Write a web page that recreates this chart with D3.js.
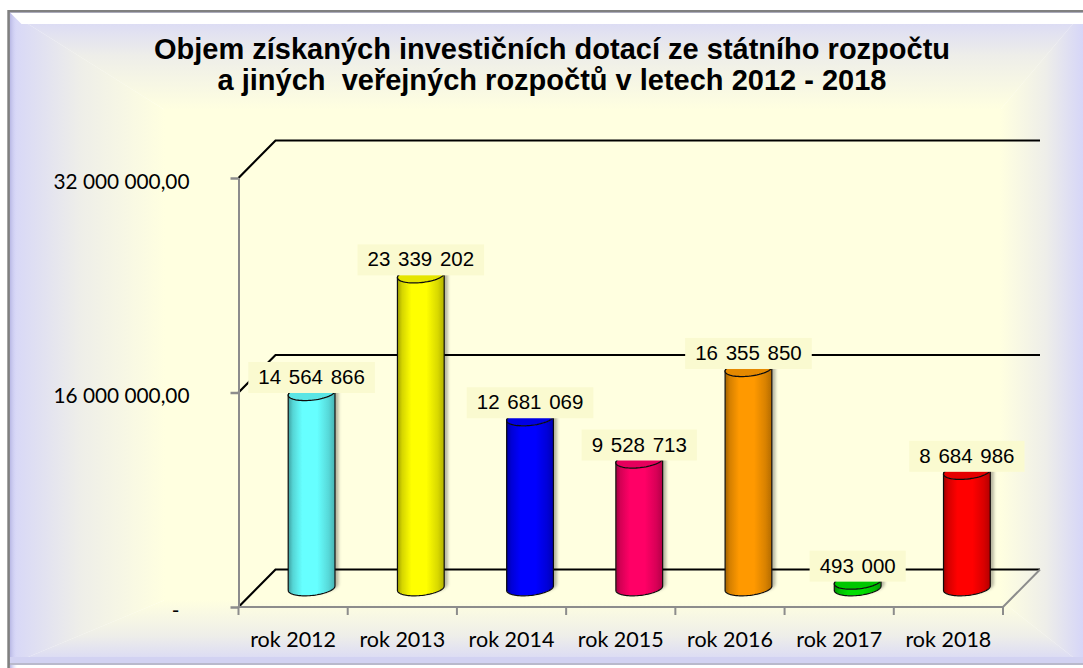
<!DOCTYPE html>
<html><head><meta charset="utf-8">
<script src="https://cdn.jsdelivr.net/npm/d3@7"></script>
<style>html,body{margin:0;padding:0;background:#fff;} svg{display:block}</style>
</head><body><svg id="chart" width="1083" height="668"></svg>
<script>
// ---- data ----
const categories = ["rok 2012","rok 2013","rok 2014","rok 2015","rok 2016","rok 2017","rok 2018"];
const values = [14564866, 23339202, 12681069, 9528713, 16355850, 493000, 8684986];
const barColors = ["#66ffff","#ffff00","#0000ff","#ff0066","#ff9900","#00dd00","#ff0000"];
const yTicks = [0, 16000000, 32000000];
const yMax = 32000000;
const titleLines = ["Objem získaných investičních dotací ze státního rozpočtu",
                    "a jiných  veřejných rozpočtů v letech 2012 - 2018"];

// ---- setup ----
const W = 1083, H = 668;
const svg = d3.select("#chart");
const defs = svg.append("defs");
const cz = d3.formatLocale({decimal: ",", thousands: " ", grouping: [3], currency: ["", ""]});
const fmtVal = cz.format(",.0f");
const fmtTick = v => v === 0 ? "-" : cz.format(",.2f")(v);

// ---- background (rectangular gradient from center) ----
const OUT = {l: 9, r: 1083, t: 12, b: 665};
const IN = {l: 165, r: 1000, t: 110, b: 600};
const cIn = "#ffffe0", cMid = "#eeeee9", cOut = "#d6d6f8";
function bgGrad(id, x1, y1, x2, y2) {
  const g = defs.append("linearGradient").attr("id", id).attr("gradientUnits", "userSpaceOnUse")
    .attr("x1", x1).attr("y1", y1).attr("x2", x2).attr("y2", y2);
  g.append("stop").attr("offset", 0).attr("stop-color", cIn);
  g.append("stop").attr("offset", 0.55).attr("stop-color", cMid);
  g.append("stop").attr("offset", 1).attr("stop-color", cOut);
}
bgGrad("gL", IN.l, 0, OUT.l, 0);
bgGrad("gR", IN.r, 0, OUT.r, 0);
bgGrad("gT", 0, IN.t, 0, OUT.t);
bgGrad("gB", 0, IN.b, 0, OUT.b);
const bg = svg.append("g");
bg.append("rect").attr("x", IN.l - 1).attr("y", IN.t - 1).attr("width", IN.r - IN.l + 2).attr("height", IN.b - IN.t + 2).attr("fill", cIn);
const poly = pts => "M" + pts.map(p => p.join(",")).join("L") + "Z";
bg.append("path").attr("fill", "url(#gL)").attr("d", poly([[OUT.l, OUT.t], [IN.l, IN.t], [IN.l, IN.b], [OUT.l, OUT.b]]));
bg.append("path").attr("fill", "url(#gR)").attr("d", poly([[OUT.r, OUT.t], [IN.r, IN.t], [IN.r, IN.b], [OUT.r, OUT.b]]));
bg.append("path").attr("fill", "url(#gT)").attr("d", poly([[OUT.l, OUT.t], [OUT.r, OUT.t], [IN.r, IN.t], [IN.l, IN.t]]));
bg.append("path").attr("fill", "url(#gB)").attr("d", poly([[OUT.l, OUT.b], [OUT.r, OUT.b], [IN.r, IN.b], [IN.l, IN.b]]));

// bevel: left darker strip, top white highlight, bottom edge
const lg = defs.append("linearGradient").attr("id", "bevL").attr("x1", 0).attr("x2", 1).attr("y1", 0).attr("y2", 0);
lg.append("stop").attr("offset", 0).attr("stop-color", "#b8b8e4").attr("stop-opacity", 1);
lg.append("stop").attr("offset", 1).attr("stop-color", "#d6d6f8").attr("stop-opacity", 0);
bg.append("rect").attr("x", 10).attr("y", 13).attr("width", 7).attr("height", H - 13).attr("fill", "url(#bevL)");
bg.append("path").attr("fill", "#ffffff").attr("d", poly([[10.5, 13], [W, 13], [W, 24], [21.5, 24]]));
bg.append("rect").attr("x", 9).attr("y", 657).attr("width", W).attr("height", 6).attr("fill", "#d2d2f2");
bg.append("rect").attr("x", 9).attr("y", 663).attr("width", W).attr("height", 2).attr("fill", "#b9b9cc");
bg.append("path").attr("d", `M8.6,${H} L8.6,11.2 L${W},11.2`).attr("fill", "none")
  .attr("stroke", "#808080").attr("stroke-width", 2.6);

// ---- title ----
svg.append("text").attr("x", 552).attr("y", 59)
  .attr("text-anchor", "middle")
  .style("font-family", "'Liberation Sans', Arial, sans-serif").style("font-weight", "bold")
  .style("font-size", "29px").style("white-space", "pre").attr("fill", "#000")
  .selectAll("tspan").data(titleLines).join("tspan")
  .attr("x", 552).attr("dy", (d, i) => i === 0 ? 0 : 31).text(d => d);

// ---- plot geometry ----
const X0 = 238.5, X1 = 1003;
const DX = 37, DY = -37.5;     // depth offset of back wall
const x = d3.scaleBand().domain(categories).range([X0, X1]).paddingInner(0).paddingOuter(0);
const y = d3.scaleLinear().domain([0, yMax]).range([607, 178]);

const plot = svg.append("g");

// gridlines (side wall diagonal + back wall)
plot.selectAll("path.grid").data(yTicks).join("path").attr("class", "grid")
  .attr("d", v => `M${X0},${y(v)} L${X0 + DX},${y(v) + DY} L${X1 + DX},${y(v) + DY}`)
  .attr("fill", "none").attr("stroke", "#000").attr("stroke-width", 2.2);

// floor front edge + right diagonal
plot.append("path").attr("d", `M${X0},${y(0)} L${X1},${y(0)} L${X1 + DX},${y(0) + DY}`)
  .attr("fill", "none").attr("stroke", "#8c8c8c").attr("stroke-width", 2);

// y axis
const yAxis = d3.axisLeft(y).tickValues(yTicks).tickFormat(fmtTick).tickSize(8).tickSizeOuter(0).tickPadding(41);
const gy = plot.append("g").attr("transform", `translate(${X0},0)`).call(yAxis);
gy.select(".domain").attr("stroke", "#8c8c8c").attr("stroke-width", 2);
gy.selectAll(".tick line").attr("stroke", "#8c8c8c").attr("stroke-width", 2.5);
gy.selectAll(".tick text").attr("fill", "#000")
  .style("font-family", "Lato, 'Open Sans', sans-serif").style("font-size", "20.8px")
  .attr("dy", "0.5em")
  .attr("dx", d => d === 0 ? -10 : 0);

// x axis (labels at band centres, ticks at band boundaries)
const xAxis = d3.axisBottom(x).tickSize(0).tickSizeOuter(0);
const gx = plot.append("g").attr("transform", `translate(0,${y(0)})`).call(xAxis);
gx.select(".domain").remove();
gx.selectAll(".tick text").attr("y", 40).attr("dy", null).attr("fill", "#000")
  .style("font-family", "Lato, 'Open Sans', sans-serif").style("font-size", "21.5px");
gx.selectAll("line.bound").data(d3.range(categories.length + 1)).join("line").attr("class", "bound")
  .attr("x1", i => X0 + i * x.step()).attr("x2", i => X0 + i * x.step())
  .attr("y1", 0).attr("y2", 8).attr("stroke", "#8c8c8c").attr("stroke-width", 2);

// ---- cylinders ----
const RX = 23.5, RY = 7.2, TH = -6 * Math.PI / 180;
function ePt(cx, cy, t) {
  return [cx + RX * Math.cos(t) * Math.cos(TH) - RY * Math.sin(t) * Math.sin(TH),
          cy + RX * Math.cos(t) * Math.sin(TH) + RY * Math.sin(t) * Math.cos(TH)];
}
const T0 = Math.atan(-RY * Math.sin(TH) / (RX * Math.cos(TH)));
function arcPts(cx, cy, tA, tB, n) {
  return d3.range(n + 1).map(k => ePt(cx, cy, tA + (tB - tA) * k / n));
}
function bodyPath(cx, yTop, yBot) {
  const top = arcPts(cx, yTop, T0, T0 - Math.PI, 40);
  const bot = arcPts(cx, yBot, T0 + Math.PI, T0, 40);
  return "M" + top.concat(bot).map(p => p[0].toFixed(2) + "," + p[1].toFixed(2)).join("L") + "Z";
}
function ellPath(cx, cy) {
  const pts = arcPts(cx, cy, 0, 2 * Math.PI, 72);
  return "M" + pts.map(p => p[0].toFixed(2) + "," + p[1].toFixed(2)).join("L") + "Z";
}

const flt = defs.append("filter").attr("id", "shadow").attr("x", "-40%").attr("y", "-40%").attr("width", "180%").attr("height", "180%");
flt.append("feDropShadow").attr("dx", 3).attr("dy", -2).attr("stdDeviation", 1.4)
  .attr("flood-color", "#000").attr("flood-opacity", 0.28);

barColors.forEach((c, i) => {
  const g = defs.append("linearGradient").attr("id", "cyl" + i).attr("x1", 0).attr("x2", 1).attr("y1", 0).attr("y2", 0);
  const col = d3.color(c);
  [[0, col.darker(1.3)], [0.1, col.darker(0.5)], [0.3, col], [0.62, col], [0.86, col.darker(0.45)], [1, col.darker(1.0)]]
    .forEach(([o, cc]) => g.append("stop").attr("offset", o).attr("stop-color", cc.formatHex()));
});

const data = categories.map((cat, i) => ({cat, value: values[i], color: barColors[i], i}));
const cxOf = d => x(d.cat) + x.bandwidth() / 2 + DX / 2;
const yMid = v => y(v) + DY / 2;

const bars = plot.selectAll("g.bar").data(data).join("g").attr("class", "bar").attr("filter", "url(#shadow)");
bars.append("path")
  .attr("d", d => bodyPath(cxOf(d), yMid(d.value), yMid(0)))
  .attr("fill", d => `url(#cyl${d.i})`)
  .attr("stroke", "#111").attr("stroke-width", 1.2).attr("stroke-linejoin", "round");
bars.append("path")
  .attr("d", d => ellPath(cxOf(d), yMid(d.value)))
  .attr("fill", d => d3.color(d.color).darker(0.3).formatHex())
  .attr("stroke", "#111").attr("stroke-width", 1.3);

// ---- data labels ----
const labels = plot.selectAll("g.lbl").data(data).join("g").attr("class", "lbl")
  .attr("transform", d => `translate(${cxOf(d)},${yMid(d.value)})`);
const lblRect = labels.append("rect").attr("fill", "#fafad0");
const lblText = labels.append("text").attr("text-anchor", "middle").attr("y", -9)
  .style("font-family", "'Liberation Sans', Arial, sans-serif").style("font-size", "20.5px")
  .style("word-spacing", "2px")
  .attr("fill", "#000").text(d => fmtVal(d.value));
lblText.each(function () {
  const w = this.getComputedTextLength();
  d3.select(this.parentNode).select("rect")
    .attr("x", -w / 2 - 10).attr("width", w + 20).attr("y", -31).attr("height", 31);
});
</script>
</body></html>
